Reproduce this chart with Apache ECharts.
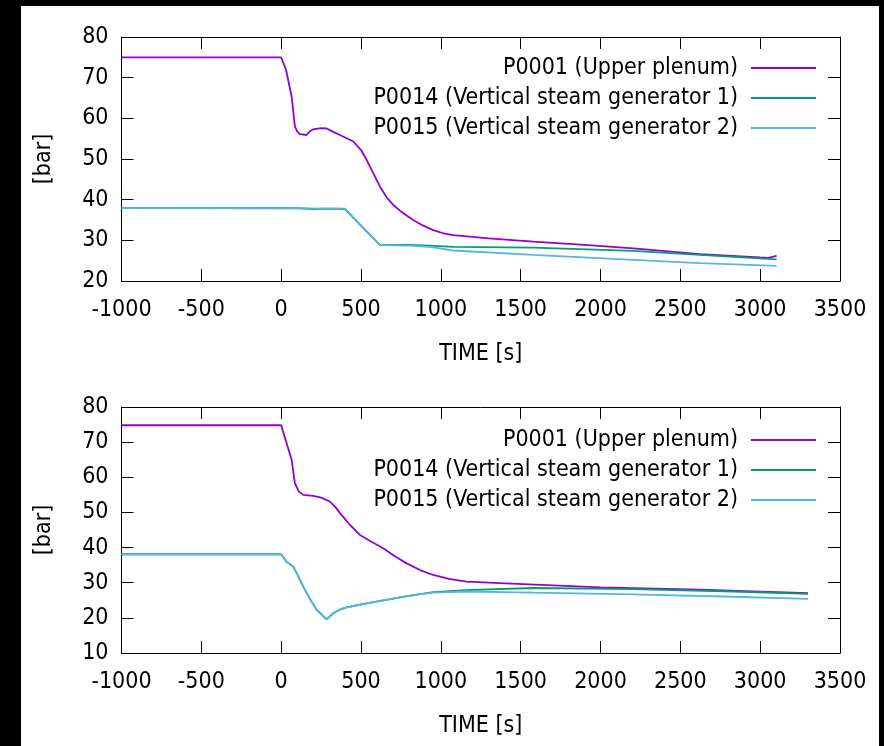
<!DOCTYPE html>
<html>
<head>
<meta charset="utf-8">
<script src="https://cdn.jsdelivr.net/npm/echarts@6/dist/echarts.min.js"></script>
<style>
  html, body { margin: 0; padding: 0; background: #000; width: 884px; height: 746px; overflow: hidden; }
  #chart { position: absolute; left: 21px; top: 6px; width: 858px; height: 740px; background: #fff; }
</style>
</head>
<body>
<div id="chart"></div>
<script>
// x tick labels / names
var xTicks = [-1000, -500, 0, 500, 1000, 1500, 2000, 2500, 3000, 3500];
var names = ['P0001 (Upper plenum)', 'P0014 (Vertical steam generator 1)', 'P0015 (Vertical steam generator 2)'];
var colors = ['#9400d3', '#009e73', '#56b4e9'];

// upper plot [time s, bar]
var topP0001 = [[-1000,75],[0,75],[30,72],[66,65.3],[86,58],[100,56.8],[117,56.1],[159,55.9],[180,56.8],[201,57.3],[250,57.6],[285,57.5],[330,56.6],[368,55.9],[452,54.3],[500,52.2],[535,49.8],[580,46.3],[619,43.2],[660,40.6],[702,38.7],[744,37.3],[790,36.0],[827,35],[890,33.6],[952,32.5],[1010,31.8],[1078,31.3],[1300,30.5],[1579,29.7],[1900,28.9],[2205,28.0],[2622,26.6],[2998,25.8],[3050,25.7],[3103,26.2]];
var topP0014 = [[-1000,37.9],[100,37.9],[200,37.7],[300,37.8],[399,37.7],[619,28.8],[800,28.9],[931,28.7],[1078,28.4],[1579,28.2],[2205,27.4],[2622,26.4],[3103,25.3]];
var topP0015 = [[-1000,37.9],[399,37.8],[619,28.8],[800,28.7],[931,28.4],[1078,27.5],[1579,26.4],[2205,25.2],[2622,24.4],[3103,23.7]];

// lower plot [time s, bar]
var botP0001 = [[-1000,74.8],[0,74.8],[66,64.9],[86,58.3],[110,56],[138,55],[201,54.7],[250,54.2],[305,53.1],[340,51.5],[368,49.8],[430,46.5],[493,43.6],[560,41.8],[639,39.8],[710,37.6],[786,35.5],[870,33.6],[952,32.2],[1050,31.1],[1161,30.3],[1370,29.9],[2000,28.7],[2622,28.0],[3300,27.0]];
var botP0014 = [[-1000,38.1],[0,38.1],[33,36],[75,34.6],[100,32.5],[138,28.9],[180,25.4],[222,22.3],[284,19.6],[326,21.3],[370,22.4],[410,23.0],[535,24.1],[640,25.0],[744,25.8],[850,26.6],[952,27.3],[1161,27.9],[1579,28.5],[2205,28.2],[2831,27.5],[3300,26.8]];
var botP0015 = [[-1000,38.1],[0,38.1],[33,36],[75,34.6],[100,32.5],[138,28.9],[180,25.4],[222,22.3],[284,19.6],[326,21.3],[370,22.4],[410,23.0],[535,24.1],[640,25.0],[744,25.8],[850,26.6],[952,27.2],[1161,27.5],[1579,27.2],[2205,26.7],[2831,26.0],[3300,25.4]];

var font = '"DejaVu Sans Condensed", "Liberation Sans", sans-serif';
var fs = 23;

function xAx(grid, pos, labels) {
  return {
    type: 'value', gridIndex: grid, position: pos, min: -1000, max: 3500, interval: 500,
    name: labels ? 'TIME [s]' : '', nameLocation: 'middle', nameGap: 62,
    nameTextStyle: { color: '#000', fontSize: fs, fontFamily: font },
    axisLine: { show: true, onZero: false, lineStyle: { color: '#000', width: 1 } },
    axisTick: { show: true, inside: true, length: 12, lineStyle: { color: '#000' } },
    axisLabel: { show: labels, color: '#000', fontSize: fs, fontFamily: font, margin: 18,
      formatter: function (v) { return String(v); } },
    splitLine: { show: false }
  };
}
function yAx(grid, pos, labels, min) {
  return {
    type: 'value', gridIndex: grid, position: pos, min: min, max: 80, interval: 10,
    name: labels ? '[bar]' : '', nameLocation: 'middle', nameGap: 66, nameRotate: 90,
    nameTextStyle: { color: '#000', fontSize: fs, fontFamily: font },
    axisLine: { show: true, onZero: false, lineStyle: { color: '#000', width: 1 } },
    axisTick: { show: true, inside: true, length: 12, lineStyle: { color: '#000' } },
    axisLabel: { show: labels, color: '#000', fontSize: fs, fontFamily: font, margin: 13 },
    splitLine: { show: false }
  };
}
function line(i, xi, yi, data) {
  return {
    name: names[i], type: 'line', xAxisIndex: xi, yAxisIndex: yi, data: data,
    showSymbol: false, symbol: 'none', smooth: false,
    lineStyle: { color: colors[i], width: 1.8 }, itemStyle: { color: colors[i] }
  };
}
function legend(top) {
  return {
    data: names, orient: 'vertical', right: 58, top: top, align: 'right',
    icon: 'rect', itemWidth: 65, itemHeight: 2, itemGap: 0, selectedMode: false,
    textStyle: { color: '#000', fontSize: fs, fontFamily: font, lineHeight: 30, padding: [0, 8, 0, 0] }
  };
}

var chart = echarts.init(document.getElementById('chart'));
chart.setOption({
  animation: false,
  backgroundColor: '#fff',
  grid: [
    { left: 100.5, top: 31, width: 718.5, height: 244 },
    { left: 100.5, top: 401, width: 718.5, height: 246 }
  ],
  legend: [legend(42), legend(414)],
  xAxis: [xAx(0, 'bottom', true), xAx(0, 'top', false), xAx(1, 'bottom', true), xAx(1, 'top', false)],
  yAxis: [yAx(0, 'left', true, 20), yAx(0, 'right', false, 20), yAx(1, 'left', true, 10), yAx(1, 'right', false, 10)],
  series: [
    line(0, 0, 0, topP0001), line(1, 0, 0, topP0014), line(2, 0, 0, topP0015),
    line(0, 2, 2, botP0001), line(1, 2, 2, botP0014), line(2, 2, 2, botP0015)
  ]
});
</script>
</body>
</html>
